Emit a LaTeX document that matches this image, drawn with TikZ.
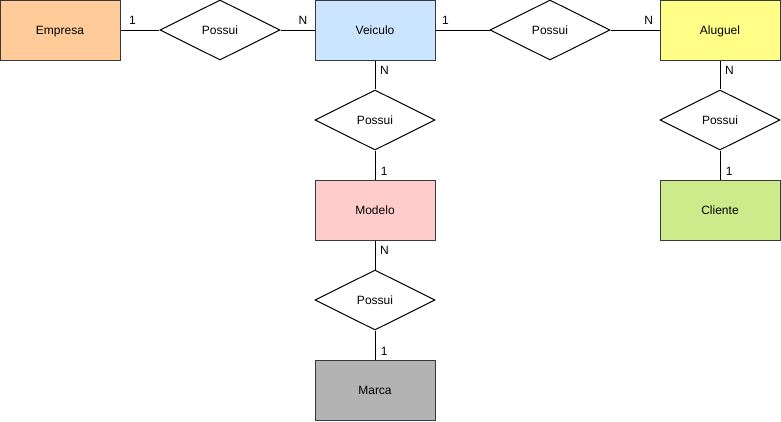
\documentclass[tikz,border=0pt]{standalone}
\usepackage{fontspec}
\setmainfont{Liberation Sans}
\usetikzlibrary{shapes.geometric}
\definecolor{edgecol}{HTML}{36393D}
\definecolor{empresacol}{HTML}{FFCC99}
\definecolor{veiculocol}{HTML}{CCE5FF}
\definecolor{aluguelcol}{HTML}{FFFF88}
\definecolor{clientecol}{HTML}{CDEB8B}
\definecolor{modelocol}{HTML}{FFCCCC}
\definecolor{marcacol}{HTML}{B3B3B3}
\tikzset{
  entity/.style={draw = edgecol, line width = 0.75pt, minimum width = 90pt, minimum height = 45pt, inner sep = 0pt, text height = 6.5pt, text depth = 0pt, font = \fontsize{9}{11}\selectfont},
  relation/.style={diamond, draw = black, fill = white, line width = 0.75pt, minimum width = 90pt, minimum height = 45pt, inner sep = 0pt, aspect = 2, text height = 6.5pt, text depth = 0pt, font = \fontsize{9}{11}\selectfont},
  link/.style={draw = black, line width = 0.75pt},
  card/.style={inner sep = 0pt, font = \fontsize{9}{11}\selectfont}
}
\begin{document}
\begin{tikzpicture}[x = 0.75pt, y = -0.75pt]
\useasboundingbox (0, 0) rectangle (781, 421);
% entities
\node[entity, fill = empresacol] (empresa) at (60, 30) {Empresa};
\node[entity, fill = veiculocol] (veiculo) at (375, 30) {Veiculo};
\node[entity, fill = aluguelcol] (aluguel) at (720, 30) {Aluguel};
\node[entity, fill = modelocol] (modelo) at (375, 210) {Modelo};
\node[entity, fill = marcacol] (marca) at (375, 390) {Marca};
\node[entity, fill = clientecol] (cliente) at (720, 210) {Cliente};
% relations
\node[relation] (possuiEV) at (220, 30) {Possui};
\node[relation] (possuiVA) at (550, 30) {Possui};
\node[relation] (possuiVM) at (375, 120) {Possui};
\node[relation] (possuiMM) at (375, 300) {Possui};
\node[relation] (possuiAC) at (720, 120) {Possui};
% links
\draw[link] (empresa) -- (possuiEV) node[card, at start, anchor = south west, xshift = 6pt, yshift = 3.5pt] {1};
\draw[link] (possuiEV) -- (veiculo) node[card, at end, anchor = south east, xshift = -5pt, yshift = 3.5pt] {N};
\draw[link] (veiculo) -- (possuiVA) node[card, at start, anchor = south west, xshift = 4.5pt, yshift = 3.5pt] {1};
\draw[link] (possuiVA) -- (aluguel) node[card, at end, anchor = south east, xshift = -4.5pt, yshift = 3.5pt] {N};
\draw[link] (veiculo) -- (possuiVM) node[card, at start, anchor = north west, xshift = 3.5pt, yshift = -4pt] {N};
\draw[link] (possuiVM) -- (modelo) node[card, at end, anchor = south west, xshift = 4pt, yshift = 3pt] {1};
\draw[link] (modelo) -- (possuiMM) node[card, at start, anchor = north west, xshift = 3.5pt, yshift = -4pt] {N};
\draw[link] (possuiMM) -- (marca) node[card, at end, anchor = south west, xshift = 4pt, yshift = 3pt] {1};
\draw[link] (aluguel) -- (possuiAC) node[card, at start, anchor = north west, xshift = 3.5pt, yshift = -4pt] {N};
\draw[link] (possuiAC) -- (cliente) node[card, at end, anchor = south west, xshift = 4pt, yshift = 3pt] {1};
\end{tikzpicture}
\end{document}
